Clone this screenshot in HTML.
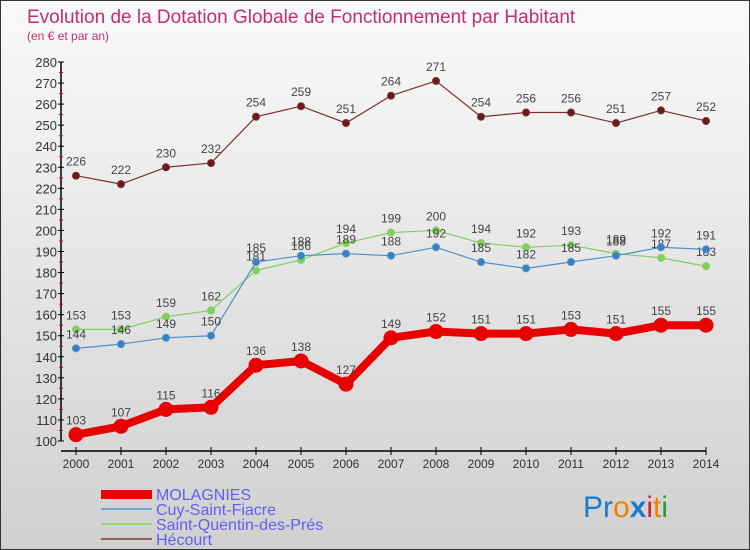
<!DOCTYPE html>
<html><head><meta charset="utf-8"><style>
body{margin:0}
#wrap{width:750px;height:550px;position:relative;font-family:"Liberation Sans",sans-serif;background:linear-gradient(#fafafa,#d0d0d0);box-sizing:border-box;border:1px solid #333;overflow:hidden}
</style></head><body>
<div id="wrap">
<svg id="svg" width="750" height="550" style="position:absolute;left:0;top:0">
<text x="26" y="22" font-size="19" fill="#c0306a">Evolution de la Dotation Globale de Fonctionnement par Habitant</text>
<text x="26" y="39" font-size="12" fill="#c0306a">(en € et par an)</text>
<g id="axes"></g><g id="series"></g>
<g>
<rect x="100" y="489" width="51" height="9" fill="#e00"/>
<text x="155" y="499" font-size="16" fill="#6060ee">MOLAGNIES</text>
<rect x="100" y="507" width="51" height="2" fill="#6aa8d0"/>
<text x="155" y="514" font-size="16" fill="#6060ee">Cuy-Saint-Fiacre</text>
<rect x="100" y="522" width="51" height="2" fill="#90d870"/>
<text x="155" y="529" font-size="16" fill="#6060ee">Saint-Quentin-des-Prés</text>
<rect x="100" y="537" width="51" height="2" fill="#906060"/>
<text x="155" y="544" font-size="16" fill="#6060ee">Hécourt</text>
</g>
<g font-size="30" font-family="Liberation Sans,sans-serif">
<text x="582" y="516"><tspan fill="#1a7ad0">Pr</tspan><tspan fill="#f08000">o</tspan><tspan fill="#1a7ad0" font-weight="bold">x</tspan><tspan fill="#e02020">i</tspan><tspan fill="#f08000">t</tspan><tspan fill="#20a040">i</tspan></text>
</g>
</svg>
</div>
<script>
const years=[2000,2001,2002,2003,2004,2005,2006,2007,2008,2009,2010,2011,2012,2013,2014];
const yTicks=[100,110,120,130,140,150,160,170,180,190,200,210,220,230,240,250,260,270,280];
const molagnies=[103,107,115,116,136,138,127,149,152,151,151,153,151,155,155];
const cuy=[144,146,149,150,185,188,189,188,192,185,182,185,188,192,191];
const stq=[153,153,159,162,181,186,194,199,200,194,192,193,189,187,183];
const hecourt=[226,222,230,232,254,259,251,264,271,254,256,256,251,257,252];
const NS="http://www.w3.org/2000/svg";
function X(i){return 75+i*45;}
function Y(v){return 440-(v-100)*379/180;}
function mk(t,a,p){const e=document.createElementNS(NS,t);for(const k in a)e.setAttribute(k,a[k]);p.appendChild(e);return e;}
const ax=document.getElementById('axes'),sg=document.getElementById('series');
let l=mk('line',{x1:60,y1:Y(280),x2:60,y2:440,stroke:'#000','stroke-width':1.5},ax);


l=mk('line',{x1:60,y1:450,x2:X(14),y2:450,stroke:'#000','stroke-width':1.5},ax);


yTicks.forEach((v,i)=>{
 mk('line',{x1:57,x2:63,y1:Y(v),y2:Y(v),stroke:'#000'},ax);
 if(i<yTicks.length-1)mk('line',{x1:58,x2:62,y1:Y(v+5),y2:Y(v+5),stroke:'#e00'},ax);
 const t=mk('text',{x:56,y:Y(v)+5,'text-anchor':'end','font-size':13,fill:'#333'},ax);
 t.textContent=v;
 
 
});
years.forEach((y,i)=>{
 mk('line',{x1:X(i),x2:X(i),y1:446,y2:454,stroke:'#000'},ax);
 const t=mk('text',{x:X(i),y:467,'text-anchor':'middle','font-size':12,fill:'#333'},ax);
 t.textContent=y;
 
 
});
function series(d,name,col,dot,w,r){
 const g=mk('g',{},sg);
 
 
 mk('polyline',{points:d.map((v,i)=>X(i)+','+Y(v)).join(' '),fill:'none',stroke:col,'stroke-width':w,'stroke-linejoin':'round'},g);
 d.forEach((v,i)=>{
  const c=mk('circle',{cx:X(i),cy:Y(v),r:r,fill:dot,stroke:col,'stroke-width':1},g);
  
  
  const t=mk('text',{x:X(i),y:Y(v)-10,'text-anchor':'middle','font-size':12,fill:'#444'},g);
  t.textContent=v;
  
  
 });
}
series(hecourt,'hecourt','#7a3030','#6a1a1a',1.2,3.5);
series(stq,'saint-quentin','#80d060','#80d060',1.2,3.5);
series(cuy,'cuy','#5090c8','#3a80c0',1.2,3.5);
series(molagnies,'molagnies','#e80000','#e80000',8,7);
</script>
</body></html>
